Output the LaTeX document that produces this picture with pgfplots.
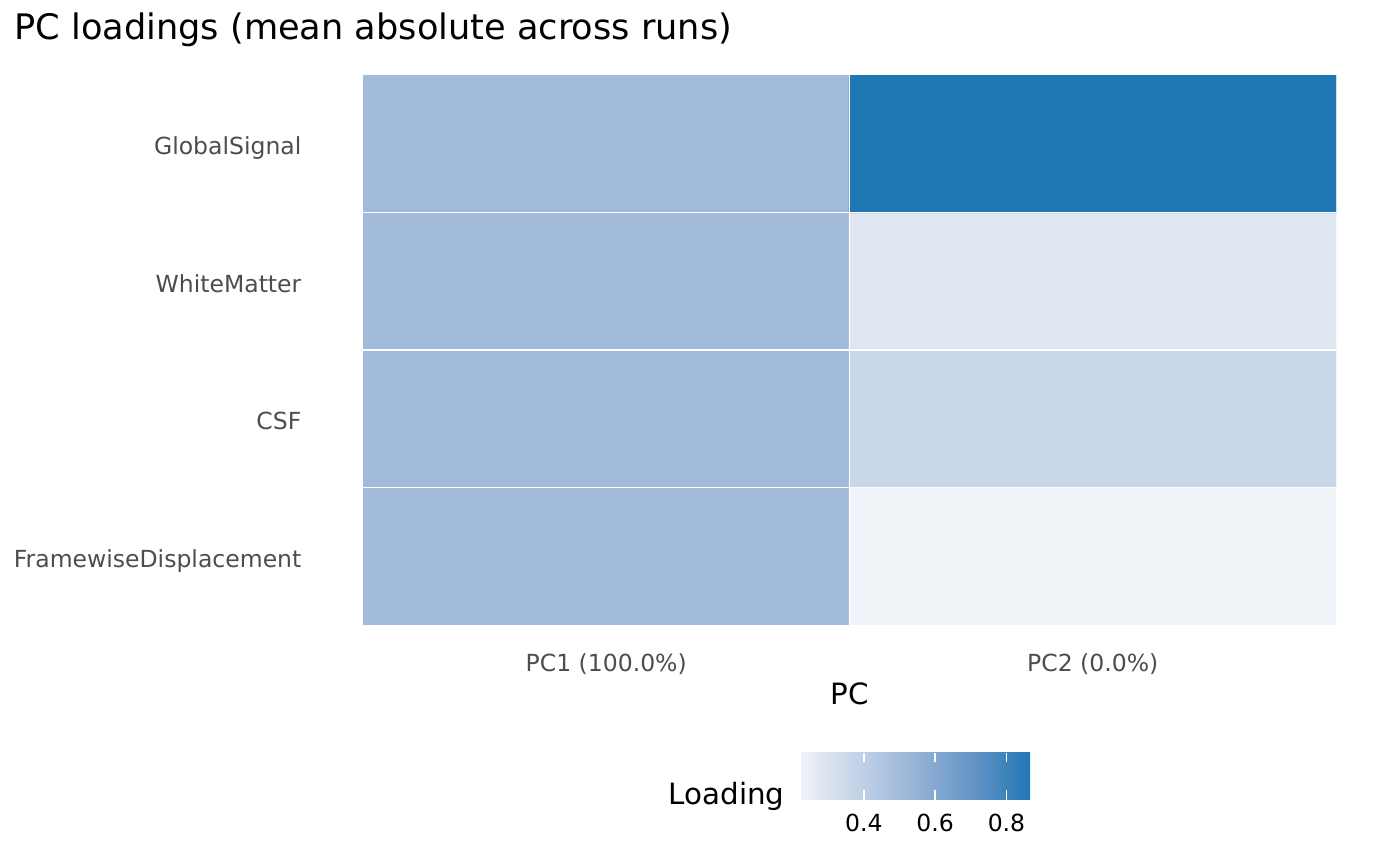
\documentclass[border=0pt]{standalone}
\usepackage{fontspec}
\setmainfont{DejaVu Sans}
\usepackage{pgfplots}
\pgfplotsset{compat=1.18}
\usepackage{pgfplotstable}
\definecolor{tickgrey}{RGB}{77,77,77}
\pgfplotstableread{
x y v
0 0 0.500
1 0 0.221
0 1 0.500
1 1 0.360
0 2 0.500
1 2 0.280
0 3 0.500
1 3 0.866
}\loadings
\begin{document}
\begin{tikzpicture}
\path[use as bounding box] (0,0) rectangle (504bp,311.4bp);
\begin{axis}[
  name=main,
  at={(130.68bp,86.4bp)}, anchor=south west,
  scale only axis, width=350.28bp, height=198bp,
  xmin=-0.5, xmax=1.5, ymin=-0.5, ymax=3.5,
  axis line style={draw=none},
  major tick length=0pt, minor tick length=0pt,
  tick style={draw=none},
  xtick={0,1}, xticklabels={PC1 (100.0\%), PC2 (0.0\%)},
  ytick={0,1,2,3}, yticklabels={FramewiseDisplacement,CSF,WhiteMatter,GlobalSignal},
  minor xtick={0.5}, minor ytick={0.5,1.5,2.5},
  xminorgrids, yminorgrids,
  minor grid style={white, line width=0.5bp},
  axis on top,
  xticklabel style={anchor=base, inner sep=0pt, yshift=-16.6bp, text=tickgrey, font=\fontsize{8.5}{10}\selectfont},
  yticklabel style={anchor=base east, inner sep=0pt, xshift=-22.0bp, yshift=-3.9bp, text=tickgrey, font=\fontsize{8.5}{10}\selectfont},
  xlabel={PC},
  every axis x label/.style={at={(axis description cs:0.5,0)}, anchor=base, yshift=-28.5bp, inner sep=0pt, font=\fontsize{10.6}{13}\selectfont},
  colormap={loading}{rgb255(0cm)=(240,243,248) rgb255(1cm)=(195,210,231) rgb255(2cm)=(150,179,214) rgb255(3cm)=(101,148,197) rgb255(4cm)=(31,119,180)},
  point meta min=0.221, point meta max=0.866,
  colorbar horizontal,
  colorbar/width=16.9bp,
  colorbar style={
    at={(parent axis.south west)}, anchor=north west, xshift=157.32bp, yshift=-37.42bp,
    scale only axis, width=82.8bp, height=16.9bp,
    axis line style={draw=none},
    xtick={0.4,0.6,0.8}, xticklabels={0.4,0.6,0.8},
    xtick pos=both, xticklabel pos=lower,
    tick align=inside, major tick length=3.3bp,
    xtick style={draw=white, line width=0.5bp},
    xticklabel style={anchor=base, inner sep=0pt, yshift=-11.5bp, text=black, font=\fontsize{8.5}{10}\selectfont},
    ytick=\empty,
  },
]
\addplot[matrix plot*, mesh/cols=2, point meta=explicit] table[x=x, y=y, meta=v] {\loadings};
\end{axis}
\node[anchor=base west, inner sep=0pt, font=\fontsize{12.7}{15}\selectfont] at (5.0bp,297bp) {PC loadings (mean absolute across runs)};
\node[anchor=base east, inner sep=0pt, font=\fontsize{10.6}{13}\selectfont] at (282.6bp,21.6bp) {Loading};
\end{tikzpicture}
\end{document}
